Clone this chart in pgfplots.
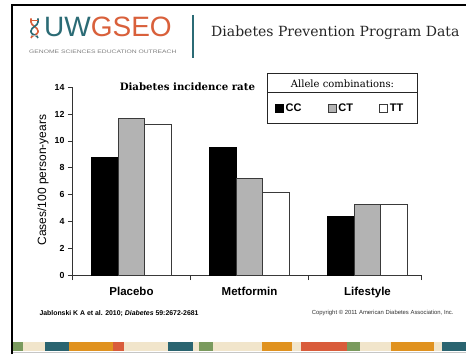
\documentclass[border=0pt]{standalone}
\usepackage{fontspec}
\setmainfont{Liberation Serif}
\setsansfont{Liberation Sans}
\newfontfamily\djserif{DejaVu Serif}
\usepackage{pgfplots}
\pgfplotsset{compat=1.18}

\definecolor{uwteal}{HTML}{2B6B75}
\definecolor{uworange}{HTML}{D9603B}
\definecolor{stripbeige}{HTML}{F1E5CB}
\definecolor{stripteal}{HTML}{2A6470}
\definecolor{striporange}{HTML}{E0921F}
\definecolor{stripred}{HTML}{D95C3B}
\definecolor{stripgreen}{HTML}{7A9A5E}
\definecolor{barGray}{HTML}{B3B3B3}
\definecolor{edge}{HTML}{3A3A3A}

\pgfplotstableread{
idx CC CT TT
0 8.8 11.7 11.2
1 9.5 7.2 6.2
2 4.4 5.3 5.3
}\dpptable

\begin{document}
\begin{tikzpicture}[x=1pt,y=1pt]
\fill[white] (0,0) rectangle (466,354);
\clip (0,0) rectangle (466,354);
% bottom decorative strip
\fill[stripbeige] (13,3.3) rectangle (466,12);
\fill[stripgreen] (13,3.3) rectangle (23.3,12);
\fill[stripteal] (44.7,3.3) rectangle (69.3,12);
\fill[striporange] (69.3,3.3) rectangle (112.7,12);
\fill[stripred] (112.7,3.3) rectangle (124,12);
\fill[stripteal] (168.3,3.3) rectangle (193,12);
\fill[stripgreen] (199,3.3) rectangle (213,12);
\fill[striporange] (262.3,3.3) rectangle (292.3,12);
\fill[stripred] (301,3.3) rectangle (347,12);
\fill[stripgreen] (347,3.3) rectangle (360.3,12);
\fill[striporange] (390.7,3.3) rectangle (433.7,12);
\fill[stripteal] (442,3.3) rectangle (466,12);
\draw[gray!45, line width=0.6] (12,1.8) -- (466,1.8);
% frame
\draw[black, line width=2] (12,0) -- (12,348.5) -- (466,348.5);

% logo
\begin{scope}[line width=1.6]
\draw[uworange] (31,335.5) -- (31,332) .. controls (31,328) and (38,327) .. (38,323) -- (38,322) .. controls (38,319) and (31,319) .. (31,316);
\draw[uwteal] (38,335.5) -- (38,332) .. controls (38,328) and (31,327) .. (31,323) -- (31,322) .. controls (31,319) and (38,319) .. (38,316);
\draw[uworange, line width=1] (31,333.5) -- (38,333.5);
\draw[gray!60, line width=1] (31,318) -- (38,318);
\end{scope}
\node[anchor=base west, inner sep=0pt, font=\fontsize{28}{30}\selectfont\sffamily] at (44,317) {\textcolor{uwteal}{UW}\textcolor{uworange}{GSEO}};
\node[anchor=west, inner sep=0pt, text=gray] at (29,302) {\scalebox{1.35}[1]{\fontsize{5}{6}\selectfont\sffamily GENOME SCIENCES EDUCATION OUTREACH}};
\draw[uwteal, line width=1.2] (193,339) -- (193,296);
\node[anchor=west, inner sep=0pt, font=\djserif\fontsize{14}{16}\selectfont, text=black!85] at (211,321) {Diabetes Prevention Program Data};

\begin{axis}[
  at={(131.5pt,78.3pt)}, anchor=origin,
  scale only axis, width=349.3pt, height=188.7pt,
  xmin=-0.5, xmax=2.46, ymin=0, ymax=14,
  axis x line*=bottom, axis y line*=left,
  axis line style={-, black!80, line width=0.8pt},
  ybar=0pt, bar width=26.6pt,
  ytick={0,2,...,14},
  tick align=outside, major tick length=4.5pt,
  tick style={black!80, line width=0.8pt},
  xtick={-0.5,0.5,1.5,2.46}, xticklabels={},
  extra x ticks={0,1,2},
  extra x tick labels={Placebo,Metformin,Lifestyle},
  extra x tick style={major tick length=0pt, tick style={draw=none},
     xticklabel style={font=\sffamily\bfseries\fontsize{11.5}{13}\selectfont, yshift=-8pt}},
  /pgf/number format/assume math mode=true,
  yticklabel style={font=\sffamily\bfseries\fontsize{8.8}{10}\selectfont, xshift=0pt},
  ylabel={Cases/100 person-years},
  ylabel style={font=\sffamily\fontsize{12}{14}\selectfont, at={(axis description cs:-0.0845,0.507)}, anchor=center},
  title={Diabetes incidence rate},
  title style={font=\djserif\bfseries\fontsize{10.2}{12}\selectfont, at={(axis description cs:0.329,0.97)}, anchor=center},
  legend columns=3,
  legend style={at={(axis description cs:0.766,0.887)}, anchor=center, draw=none, fill=none,
     font=\sffamily\bfseries\fontsize{11}{13}\selectfont,
     /tikz/every even column/.append style={column sep=24pt}},
  legend image code/.code={\draw[#1] (0pt,-4pt) rectangle (8pt,4pt);},
]
\addplot[fill=black, draw=black, line width=0.8pt] table[x=idx, y=CC] {\dpptable};
\addplot[fill=barGray, draw=edge, line width=0.8pt] table[x=idx, y=CT] {\dpptable};
\addplot[fill=white, draw=edge, line width=0.8pt] table[x=idx, y=TT] {\dpptable};
\legend{CC,CT,TT}
\end{axis}

% legend frame
\draw[black!85, line width=0.8] (267.7,280.7) rectangle (417.3,230.7);
\draw[black!85, line width=0.8] (267.7,261.3) -- (417.3,261.3);
\node[font=\djserif\fontsize{10}{12}\selectfont] at (342.5,270.7) {Allele combinations:};

% footer
\node[anchor=west, inner sep=0pt, font=\sffamily\bfseries\fontsize{6.9}{8}\selectfont] at (39.3,40.7) {Jablonski K A et al. 2010; \textit{Diabetes} 59:2672-2681};
\node[anchor=west, inner sep=0pt, font=\sffamily\fontsize{5.9}{7}\selectfont, text=black!80] at (311.7,41.3) {Copyright © 2011 American Diabetes Association, Inc.};
\end{tikzpicture}
\end{document}
